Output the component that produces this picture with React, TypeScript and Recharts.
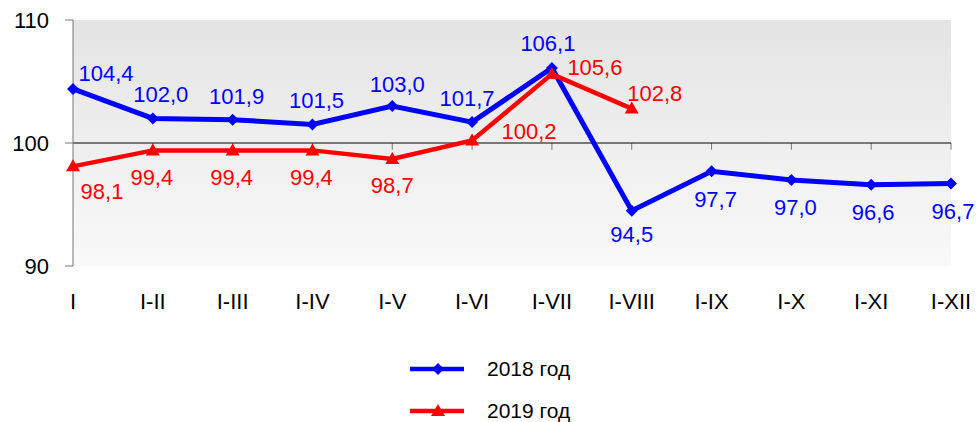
import React from "react";
import {
  LineChart, Line, XAxis, YAxis, CartesianGrid, ReferenceLine, LabelList,
} from "recharts";

const CATEGORIES = ["I", "I-II", "I-III", "I-IV", "I-V", "I-VI", "I-VII", "I-VIII", "I-IX", "I-X", "I-XI", "I-XII"];
const Y2018 = [104.4, 102.0, 101.9, 101.5, 103.0, 101.7, 106.1, 94.5, 97.7, 97.0, 96.6, 96.7];
const Y2019 = [98.1, 99.4, 99.4, 99.4, 98.7, 100.2, 105.6, 102.8];
const Y_TICKS = [90, 100, 110];
const SERIES_NAMES = ["2018 год", "2019 год"];

// label offsets from the point (text centre), px
const OFF_2018: [number, number][] = [
  [33, -15], [8, -24], [4, -23], [4, -24], [5, -22], [-5, -24],
  [-4, -24], [0, 24], [4, 28], [4, 28], [2, 28], [2, 28],
];
const OFF_2019: [number, number][] = [
  [29, 25], [-1, 27], [-1, 27], [-1, 27], [0, 27], [57, -9], [43, -7], [23, -15],
];

const BLUE = "#0000ff";
const RED = "#ff0000";
const FONT = "'Liberation Sans', Arial, sans-serif";

const data = CATEGORIES.map((c, i) => ({
  name: c,
  y2018: Y2018[i],
  y2019: i < Y2019.length ? Y2019[i] : null,
}));

const fmt = (v: number) => v.toFixed(1).replace(".", ",");

const makeLabel = (color: string, offsets: [number, number][]) => (props: any) => {
  const { x, y, value, index } = props;
  if (value == null) return null;
  const [dx, dy] = offsets[index] ?? [0, -20];
  return (
    <text x={x + dx} y={y + dy} fill={color} fontSize={22} fontFamily={FONT}
      textAnchor="middle" dominantBaseline="central">
      {fmt(Number(value))}
    </text>
  );
};

const Diamond = (props: any) => {
  const { cx, cy, index } = props;
  if (cx == null || cy == null) return <g key={index} />;
  return <path key={index} d={`M${cx},${cy - 6}L${cx + 6},${cy}L${cx},${cy + 6}L${cx - 6},${cy}Z`} fill={BLUE} />;
};

const Triangle = (props: any) => {
  const { cx, cy, index } = props;
  if (cx == null || cy == null) return <g key={index} />;
  return <path key={index} d={`M${cx},${cy - 7}L${cx + 7},${cy + 5}L${cx - 7},${cy + 5}Z`} fill={RED} />;
};

export default function App() {
  return (
    <div style={{ position: "absolute", left: 0, top: 0, width: 980, height: 422, background: "#fff", fontFamily: FONT }}>
      <LineChart width={980} height={422} data={data} margin={{ top: 20, right: 29, left: 0, bottom: 0 }}>
        <defs>
          <linearGradient id="bg" x1="0" y1="0" x2="0" y2="1">
            <stop offset="0%" stopColor="#e4e4e4" />
            <stop offset="100%" stopColor="#f9f9f9" />
          </linearGradient>
        </defs>
        <CartesianGrid horizontal={false} vertical={false} fill="url(#bg)" />
        <XAxis dataKey="name" scale="point" padding={{ left: 0, right: 0 }} height={156}
          axisLine={false} tickLine={false} tickSize={0} tickMargin={27} interval={0}
          tick={{ fontSize: 22, fill: "#000", fontFamily: FONT }} />
        <YAxis domain={[90, 110]} ticks={Y_TICKS} width={73} interval={0}
          axisLine={{ stroke: "#777" }} tickLine={{ stroke: "#777" }} tickSize={8} tickMargin={16}
          tick={{ fontSize: 22, fill: "#000", fontFamily: FONT }} />
        {CATEGORIES.slice(1).map(c => (
          <ReferenceLine key={c} segment={[{ x: c, y: 100 }, { x: c, y: 99.45 }]} stroke="#777" />
        ))}
        <ReferenceLine y={100} stroke="#000" />
        <Line dataKey="y2018" stroke={BLUE} strokeWidth={5} dot={<Diamond />} activeDot={false} isAnimationActive={false}>
          <LabelList dataKey="y2018" content={makeLabel(BLUE, OFF_2018)} />
        </Line>
        <Line dataKey="y2019" stroke={RED} strokeWidth={4.5} dot={<Triangle />} activeDot={false} isAnimationActive={false}>
          <LabelList dataKey="y2019" content={makeLabel(RED, OFF_2019)} />
        </Line>
      </LineChart>
      {SERIES_NAMES.map((n, i) => {
        const color = i === 0 ? BLUE : RED;
        return (
          <div key={n} style={{ position: "absolute", left: 408, top: 355 + i * 42, height: 28, display: "flex", alignItems: "center" }}>
            <svg width={58} height={28}>
              <line x1={2} y1={14} x2={56} y2={14} stroke={color} strokeWidth={4.5} />
              {i === 0
                ? <path d="M30,8L36,14L30,20L24,14Z" fill={color} />
                : <path d="M30,7L37,19L23,19Z" fill={color} />}
            </svg>
            <span style={{ marginLeft: 21, fontSize: 21, color: "#000" }}>{n}</span>
          </div>
        );
      })}
    </div>
  );
}
